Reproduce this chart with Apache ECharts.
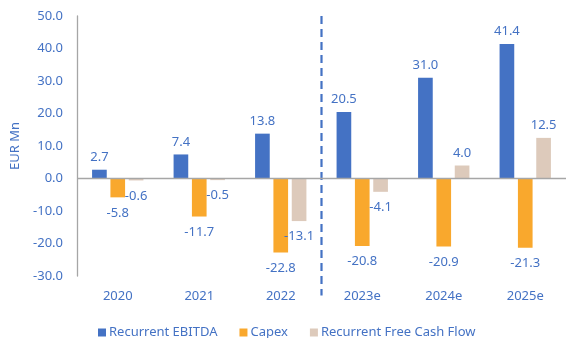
<!DOCTYPE html>
<html>
<head>
<meta charset="utf-8">
<script src="https://cdn.jsdelivr.net/npm/echarts@6/dist/echarts.min.js"></script>
<style>
  html, body { margin: 0; padding: 0; background: #fff; }
  #chart { width: 567px; height: 338px; }
</style>
</head>
<body>
<div id="chart"></div>
<script>
// Yearly figures, EUR millions (2023e onwards are estimates)
const categories = ['2020', '2021', '2022', '2023e', '2024e', '2025e'];
const ebitda = [2.7, 7.4, 13.8, 20.5, 31.0, 41.4];
const capex = [-5.8, -11.7, -22.8, -20.8, -20.9, -21.3];
const freeCashFlow = [-0.6, -0.5, -13.1, -4.1, 4.0, 12.5];
const yTicks = { min: -30, max: 50, interval: 10 };
// Position (in category units) of the actual / estimate divider
const dividerAt = 3;

const BLUE = '#4472C4';
const FONT = 'Noto Sans';

// Value labels sit above positive bars and below negative ones
function withLabels(values) {
  return values.map(v => ({
    value: v,
    label: {
      position: v >= 0 ? 'top' : 'bottom',
      distance: v >= 0 ? 6 : 9
    }
  }));
}

const labelStyle = {
  show: true,
  color: BLUE,
  fontFamily: FONT,
  fontSize: 13,
  formatter: p => p.value.toFixed(1)
};

const chart = echarts.init(document.getElementById('chart'), null, { renderer: 'canvas' });

chart.setOption({
  animation: false,
  backgroundColor: '#fff',
  grid: { left: 77, right: 1, top: 16, bottom: 62, containLabel: false },
  legend: {
    left: 93,
    top: 321,
    itemWidth: 8,
    itemHeight: 8,
    itemGap: 22,
    icon: 'rect',
    textStyle: { color: BLUE, fontFamily: FONT, fontSize: 13, padding: [0, 0, 0, -2] },
    data: ['Recurrent EBITDA', 'Capex', 'Recurrent Free Cash Flow']
  },
  xAxis: [
    {
      type: 'category',
      data: categories,
      position: 'bottom',
      axisLine: { show: false },
      axisTick: { show: false },
      axisLabel: { color: BLUE, fontFamily: FONT, fontSize: 13, margin: 14 }
    },
    {
      // helper axis for the divider line, spanning the category band edges
      type: 'value',
      min: 0,
      max: categories.length,
      show: false
    }
  ],
  yAxis: {
    type: 'value',
    min: yTicks.min,
    max: yTicks.max,
    interval: yTicks.interval,
    name: 'EUR Mn',
    nameLocation: 'middle',
    nameGap: 49,
    nameRotate: 90,
    nameTextStyle: { color: BLUE, fontFamily: FONT, fontSize: 13 },
    axisLine: { show: true, lineStyle: { color: '#A6A6A6', width: 1.3 } },
    axisTick: { show: false },
    splitLine: { show: false },
    axisLabel: {
      color: BLUE,
      fontFamily: FONT,
      fontSize: 13,
      margin: 14,
      formatter: v => v.toFixed(1)
    }
  },
  series: [
    {
      name: 'Recurrent EBITDA',
      type: 'bar',
      barWidth: '18%',
      barGap: '25%',
      itemStyle: { color: BLUE },
      label: labelStyle,
      data: withLabels(ebitda),
      markLine: {
        silent: true,
        symbol: 'none',
        label: { show: false },
        lineStyle: { color: '#A6A6A6', width: 1.3, type: 'solid' },
        data: [{ yAxis: 0 }]
      }
    },
    {
      name: 'Capex',
      type: 'bar',
      barWidth: '18%',
      barGap: '25%',
      itemStyle: { color: '#F9A82D' },
      label: labelStyle,
      data: withLabels(capex)
    },
    {
      name: 'Recurrent Free Cash Flow',
      type: 'bar',
      barWidth: '18%',
      barGap: '25%',
      itemStyle: { color: '#DDCABB' },
      label: labelStyle,
      data: withLabels(freeCashFlow)
    },
    {
      name: 'divider',
      type: 'line',
      xAxisIndex: 1,
      clip: false,
      symbol: 'none',
      silent: true,
      lineStyle: { color: BLUE, width: 2.2, type: [8, 5] },
      data: [[dividerAt, yTicks.max], [dividerAt, -36]],
      z: 1
    }
  ]
});
</script>
</body>
</html>
